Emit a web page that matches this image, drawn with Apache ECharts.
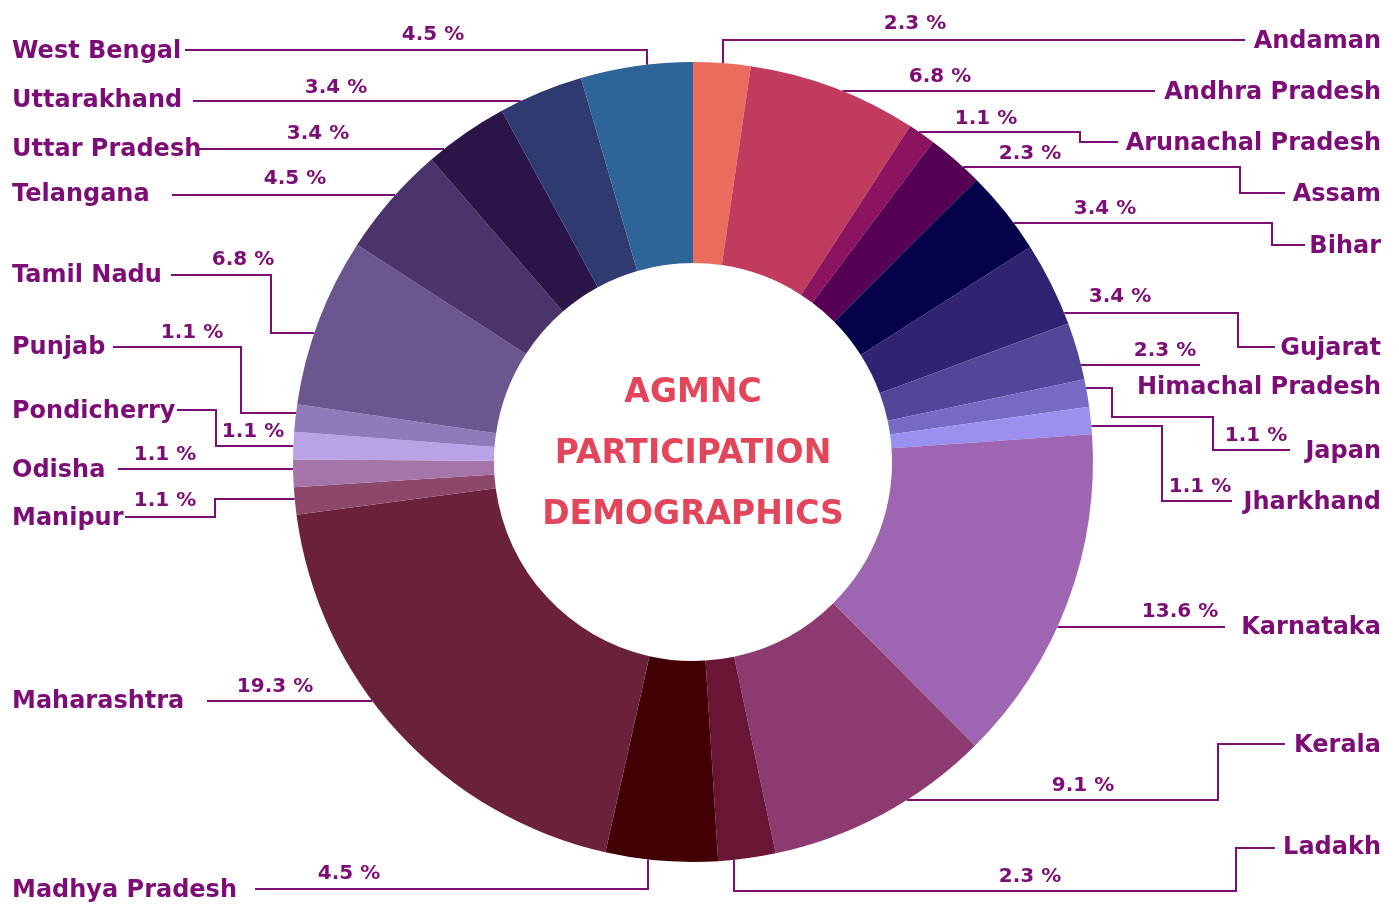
<!DOCTYPE html>
<html>
<head>
<meta charset="utf-8">
<script src="https://cdn.jsdelivr.net/npm/echarts@6/dist/echarts.min.js"></script>
<style>
  html, body { margin: 0; background: #fff; }
  #chart { width: 1399px; height: 904px; }
</style>
</head>
<body>
<div id="chart"></div>
<script>
const states = ['Andaman', 'Andhra Pradesh', 'Arunachal Pradesh', 'Assam', 'Bihar', 'Gujarat',
  'Himachal Pradesh', 'Japan', 'Jharkhand', 'Karnataka', 'Kerala', 'Ladakh', 'Madhya Pradesh',
  'Maharashtra', 'Manipur', 'Odisha', 'Pondicherry', 'Punjab', 'Tamil Nadu', 'Telangana',
  'Uttar Pradesh', 'Uttarakhand', 'West Bengal'];
const shares = [2.3, 6.8, 1.1, 2.3, 3.4, 3.4, 2.3, 1.1, 1.1, 13.6, 9.1, 2.3, 4.5,
  19.3, 1.1, 1.1, 1.1, 1.1, 6.8, 4.5, 3.4, 3.4, 4.5];
const sliceColors = ['#eb6b5d', '#c13b5f', '#8c135f', '#560054', '#05004a', '#302372',
  '#514698', '#766bc4', '#9a90ef', '#9e65b3', '#8c3a70', '#6a1535', '#420004',
  '#6b2139', '#8c4769', '#a574a8', '#b9a3e6', '#8f7bb9', '#6b5690', '#4a346b',
  '#2b1447', '#2f3a70', '#2d6598'];

// pie geometry
const CX = 693, CY = 462, R_IN = 199, R_OUT = 400;
const RIGHT_X = 1381, LEFT_X = 12;
const INK = '#7d0d76';

// leader lines: 'h' = leave the slice level at y, 'v' = leave vertically at x;
// null in a point means "same as previous point"
const routes = [
  { side: 'r', from: ['v', 723], path: [[null, 40], [1245, null]], nameY: 40 },
  { side: 'r', from: ['h', 91], path: [[1155, null]], nameY: 91 },
  { side: 'r', from: ['h', 132], path: [[1080, null], [null, 142], [1118, null]], nameY: 142 },
  { side: 'r', from: ['h', 167], path: [[1240, null], [null, 193], [1285, null]], nameY: 193 },
  { side: 'r', from: ['h', 223], path: [[1272, null], [null, 245], [1305, null]], nameY: 245 },
  { side: 'r', from: ['h', 313], path: [[1238, null], [null, 347], [1275, null]], nameY: 347 },
  { side: 'r', from: ['h', 365], path: [[1200, null]], nameY: 386 },
  { side: 'r', from: ['h', 388], path: [[1112, null], [null, 417], [1213, null], [null, 450], [1290, null]], nameY: 450 },
  { side: 'r', from: ['h', 426], path: [[1162, null], [null, 501], [1232, null]], nameY: 501 },
  { side: 'r', from: ['h', 627], path: [[1225, null]], nameY: 626 },
  { side: 'r', from: ['h', 800], path: [[1218, null], [null, 744], [1285, null]], nameY: 744 },
  { side: 'r', from: ['v', 734], path: [[null, 891], [1236, null], [null, 848], [1275, null]], nameY: 846 },
  { side: 'l', from: ['v', 648], path: [[null, 889], [255, null]], nameY: 889 },
  { side: 'l', from: ['h', 701], path: [[207, null]], nameY: 700 },
  { side: 'l', from: ['h', 499], path: [[215, null], [null, 517], [125, null]], nameY: 517 },
  { side: 'l', from: ['h', 469], path: [[118, null]], nameY: 469 },
  { side: 'l', from: ['h', 446], path: [[216, null], [null, 410], [177, null]], nameY: 410 },
  { side: 'l', from: ['h', 413], path: [[241, null], [null, 347], [113, null]], nameY: 346 },
  { side: 'l', from: ['h', 333], path: [[271, null], [null, 275], [171, null]], nameY: 274 },
  { side: 'l', from: ['h', 195], path: [[172, null]], nameY: 193 },
  { side: 'l', from: ['h', 149], path: [[198, null]], nameY: 148 },
  { side: 'l', from: ['h', 101], path: [[193, null]], nameY: 99 },
  { side: 'l', from: ['v', 647], path: [[null, 50], [185, null]], nameY: 50 }
];
// where each percentage sits (centre of text)
const pctPos = [[915, 22], [940, 75], [986, 117], [1030, 152], [1105, 207], [1120, 295],
  [1165, 349], [1256, 434], [1200, 485], [1180, 610], [1083, 784], [1030, 875],
  [349, 872], [275, 685], [165, 499], [165, 453], [253, 430], [192, 331], [243, 258],
  [295, 177], [318, 132], [336, 86], [433, 33]];

// DejaVu's box sits a bit high, nudge text down so caps centre on the line
const TEXT_NUDGE = 2;

function routePoints(r) {
  let start;
  if (r.from[0] === 'h') {
    const y = r.from[1];
    const dx = Math.sqrt(R_OUT * R_OUT - (y - CY) * (y - CY));
    start = [r.side === 'r' ? CX + dx : CX - dx, y];
  } else {
    const x = r.from[1];
    const dy = Math.sqrt(R_OUT * R_OUT - (x - CX) * (x - CX));
    start = [x, r.path[0][1] < CY ? CY - dy : CY + dy];
  }
  const pts = [start];
  r.path.forEach(p => {
    const prev = pts[pts.length - 1];
    pts.push([p[0] == null ? prev[0] : p[0], p[1] == null ? prev[1] : p[1]]);
  });
  return pts;
}

const pieData = states.map((name, i) => ({ name, value: shares[i], itemStyle: { color: sliceColors[i] } }));

const chart = echarts.init(document.getElementById('chart'));
chart.setOption({
  animation: false,
  backgroundColor: '#fff',
  graphic: [{
    type: 'text',
    x: CX,
    y: 454,
    style: {
      text: 'AGMNC\nPARTICIPATION\nDEMOGRAPHICS',
      align: 'center',
      verticalAlign: 'middle',
      font: 'bold 33px "DejaVu Sans"',
      lineHeight: 61,
      fill: '#e3455a'
    }
  }],
  series: [
    {
      type: 'pie',
      center: [CX, CY],
      radius: [R_IN, R_OUT],
      startAngle: 90,
      avoidLabelOverlap: false,
      emphasis: { disabled: true },
      data: pieData,
      label: {
        show: true,
        position: 'outside',
        formatter: '{b}',
        color: INK,
        fontFamily: 'DejaVu Sans',
        fontWeight: 'bold',
        fontSize: 24
      },
      labelLine: {
        show: true,
        length: 5,
        length2: 5,
        lineStyle: { color: INK, width: 2 }
      },
      labelLayout: function (params) {
        const r = routes[params.dataIndex];
        return {
          x: r.side === 'r' ? RIGHT_X : LEFT_X,
          y: r.nameY + TEXT_NUDGE,
          align: r.side === 'r' ? 'right' : 'left',
          verticalAlign: 'middle',
          hideOverlap: false,
          labelLinePoints: routePoints(r)
        };
      }
    },
    {
      // same ring, invisible, only to carry the percentage labels
      type: 'pie',
      center: [CX, CY],
      radius: [R_IN, R_OUT],
      startAngle: 90,
      silent: true,
      avoidLabelOverlap: false,
      emphasis: { disabled: true },
      itemStyle: { color: 'rgba(0,0,0,0)' },
      data: states.map((name, i) => ({ name, value: shares[i] })),
      label: {
        show: true,
        position: 'outside',
        formatter: '{c} %',
        color: INK,
        fontFamily: 'DejaVu Sans',
        fontWeight: 'bold',
        fontSize: 20
      },
      labelLine: { show: false },
      labelLayout: function (params) {
        const p = pctPos[params.dataIndex];
        return { x: p[0], y: p[1] + TEXT_NUDGE, align: 'center', verticalAlign: 'middle', hideOverlap: false };
      }
    }
  ]
});
</script>
</body>
</html>
